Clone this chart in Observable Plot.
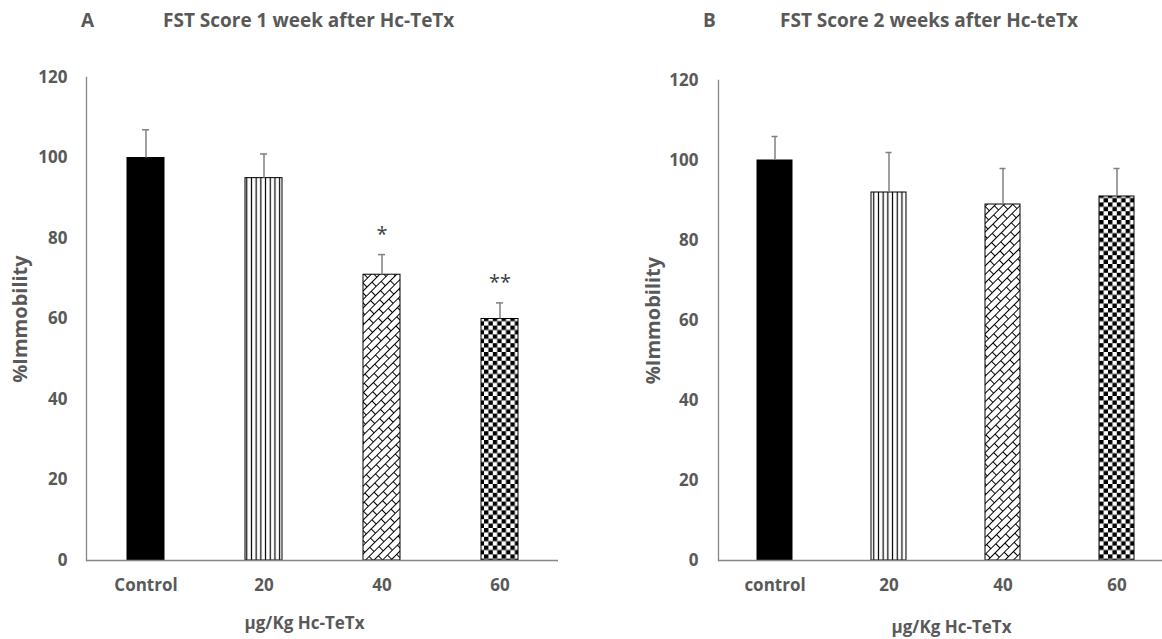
<!DOCTYPE html>
<html>
<head>
<meta charset="utf-8">
<script src="https://cdn.jsdelivr.net/npm/d3@7"></script>
<script src="https://cdn.jsdelivr.net/npm/@observablehq/plot@0.6"></script>
<style>
  html, body { margin: 0; padding: 0; background: #fff; }
  #wrap { position: relative; width: 1162px; height: 639px; overflow: hidden; font-family: "Open Sans", Lato, sans-serif; }
  .t { position: absolute; font-weight: bold; color: #595959; font-size: 19px; line-height: 19px; white-space: nowrap; }
  .panel { position: absolute; top: 0; }
</style>
</head>
<body>
<div id="wrap">
  <svg width="0" height="0" style="position:absolute">
    <defs>
      <pattern id="p-solid" patternUnits="userSpaceOnUse" width="4" height="4">
        <rect width="4" height="4" fill="#000"></rect>
      </pattern>
      <pattern id="p-vlines" patternUnits="userSpaceOnUse" width="4.7" height="10">
        <rect width="4.7" height="10" fill="#fff"></rect>
        <line x1="2.35" y1="0" x2="2.35" y2="10" stroke="#000" stroke-width="1.2"></line>
      </pattern>
      <pattern id="p-brick" patternUnits="userSpaceOnUse" width="14" height="12" patternTransform="rotate(-45)">
        <rect width="14" height="12" fill="#fff"></rect>
        <path d="M0,0.5H14M0,6.5H14M0.5,0.5V6.5M7.5,6.5V12.5" stroke="#000" stroke-width="1" fill="none"></path>
      </pattern>
      <pattern id="p-check" patternUnits="userSpaceOnUse" width="8.8" height="8.8">
        <rect width="8.8" height="8.8" fill="#fff"></rect>
        <rect x="0" y="0" width="4.4" height="4.4" fill="#000"></rect>
        <rect x="4.4" y="4.4" width="4.4" height="4.4" fill="#000"></rect>
      </pattern>
    </defs>
  </svg>
  <div class="t" style="left:81px;top:11px">A</div>
  <div class="t" style="left:163px;top:11px">FST Score 1 week after Hc-TeTx</div>
  <div class="t" style="left:703px;top:11px">B</div>
  <div class="t" style="left:780px;top:11px">FST Score 2 weeks after Hc-teTx</div>
  <div id="left" class="panel" style="left:0px"></div>
  <div id="right" class="panel" style="left:580px"></div>
</div>
<script>
// ---- data ----
const categoriesA = ["Control", "20", "40", "60"];
const meansA = [100, 95, 71, 60];
const errorsA = [7, 6, 5, 4];
const starsA = ["", "", "*", "**"];

const categoriesB = ["control", "20", "40", "60"];
const meansB = [100, 92, 89, 91];
const errorsB = [6, 10, 9, 7];

const yTicks = [0, 20, 40, 60, 80, 100, 120];
const yLabel = "%Immobility";
const xLabel = "µg/Kg Hc-TeTx";

// ---- styles ----
const fills = ["url(#p-solid)", "url(#p-vlines)", "url(#p-brick)", "url(#p-check)"];
const textColor = "#595959";
const axisColor = "#868686";
const errColor = "#808080";
const font = "'Open Sans', Lato, sans-serif";

function makePanel(cats, means, errs, stars, cfg) {
  const data = cats.map((c, i) => ({
    cat: c, mean: means[i], err: errs[i],
    top: means[i] + errs[i],
    star: stars ? stars[i] : ""
  }));
  const marks = [
    Plot.barY(data, {x: "cat", y: "mean", fill: "cat", stroke: "#000", strokeWidth: 1}),
    Plot.ruleX(data, {x: "cat", y1: "mean", y2: "top", stroke: errColor, strokeWidth: 1.5}),
    Plot.tickY(data, {x: "cat", y: "top", stroke: errColor, strokeWidth: 1.5, inset: cfg.capInset}),
    Plot.ruleY([0], {stroke: axisColor, strokeWidth: 1.3}),
    Plot.frame({anchor: "left", stroke: axisColor, strokeWidth: 1.3}),
    Plot.axisY({ticks: yTicks, tickSize: 0, tickPadding: cfg.yTickPad, fontSize: 17, fontWeight: "bold", fill: textColor, label: null}),
    Plot.axisX({tickSize: 0, tickPadding: 18, fontSize: 17, fontWeight: "bold", fill: textColor, label: null}),
    Plot.text([yLabel], {frameAnchor: "left", textAnchor: "middle", lineAnchor: "middle", rotate: -90, dx: cfg.yLabelDx, fontSize: 20, fontWeight: "bold", fill: textColor}),
    Plot.text([xLabel], {frameAnchor: "bottom", textAnchor: "middle", lineAnchor: "middle", dy: cfg.xLabelDy, dx: cfg.xLabelDx, fontSize: 17, fontWeight: "bold", fill: textColor})
  ];
  if (stars) {
    marks.push(Plot.text(data.filter(d => d.star), {x: "cat", y: "top", text: "star", dy: -20, lineAnchor: "middle", fontSize: 20, fill: "#404040"}));
  }
  return Plot.plot({
    width: cfg.width,
    height: 639,
    marginLeft: cfg.marginLeft,
    marginRight: cfg.marginRight,
    marginTop: cfg.marginTop,
    marginBottom: 79,
    style: {background: "transparent", fontFamily: font, overflow: "visible"},
    x: Object.assign({type: "band", domain: cats, paddingInner: 0.69, paddingOuter: 0.345}, cfg.xRange ? {range: cfg.xRange} : {}),
    y: {domain: [0, 120]},
    color: {type: "ordinal", domain: cats, range: fills},
    marks
  });
}

document.getElementById("left").append(makePanel(categoriesA, meansA, errorsA, starsA, {
  width: 580, marginLeft: 86, marginRight: 22, marginTop: 77,
  yTickPad: 19, yLabelDx: -66, xLabelDy: 63, xLabelDx: -18, capInset: 15
}));
document.getElementById("right").append(makePanel(categoriesB, meansB, errorsB, null, {
  width: 582, marginLeft: 138, marginRight: 0, marginTop: 80,
  xRange: [138, 594],
  yTickPad: 20, yLabelDx: -65, xLabelDy: 67, xLabelDx: 11, capInset: 14.5
}));
</script>
</body>
</html>
